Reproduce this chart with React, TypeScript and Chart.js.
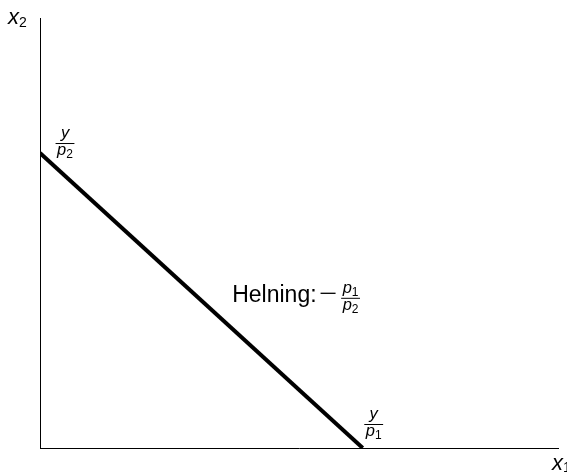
import React, { useEffect, useRef } from "react";
import { Chart, registerables } from "chart.js";

Chart.register(...registerables);

// Budget line: intercepts y/p1 on x1-axis and y/p2 on x2-axis (axes normalised 0..1)
const budgetX = [0, 0.623];
const budgetY = [0.686, 0];

// Axis labels: [base, subscript]
const xAxisLabel = ["x", "1"];
const yAxisLabel = ["x", "2"];

// Intercept fractions: [numerator, denominator base, denominator subscript]
const yInterceptLabel = ["y", "p", "2"];
const xInterceptLabel = ["y", "p", "1"];

// Slope annotation
const slopeText = "Helning:";
const slopeFraction = ["p", "1", "p", "2"];
const slopePos = [0.371, 0.34];

const FONT = '"Liberation Sans", Arial, Helvetica, sans-serif';

function drawSub(ctx: CanvasRenderingContext2D, x: number, y: number, base: string, sub: string, size: number, subSize: number, subDrop: number) {
  ctx.font = `italic ${size}px ${FONT}`;
  ctx.textAlign = "left";
  ctx.textBaseline = "alphabetic";
  ctx.fillText(base, x, y);
  const w = ctx.measureText(base).width;
  if (sub) {
    ctx.font = `${subSize}px ${FONT}`;
    ctx.fillText(sub, x + w, y + subDrop);
    return w + ctx.measureText(sub).width;
  }
  return w;
}

function measureSub(ctx: CanvasRenderingContext2D, base: string, sub: string, size: number, subSize: number) {
  ctx.font = `italic ${size}px ${FONT}`;
  let w = ctx.measureText(base).width;
  if (sub) {
    ctx.font = `${subSize}px ${FONT}`;
    w += ctx.measureText(sub).width;
  }
  return w;
}

function drawFraction(ctx: CanvasRenderingContext2D, cx: number, barY: number, numBase: string, numSub: string, denBase: string, denSub: string) {
  const size = 16.5;
  const subSize = 12;
  const nw = measureSub(ctx, numBase, numSub, size, subSize);
  const dw = measureSub(ctx, denBase, denSub, size, subSize);
  const bw = Math.max(nw, dw) + 3;
  ctx.save();
  ctx.strokeStyle = "#000";
  ctx.lineWidth = 1;
  ctx.beginPath();
  ctx.moveTo(cx - bw / 2, barY + 0.5);
  ctx.lineTo(cx + bw / 2, barY + 0.5);
  ctx.stroke();
  ctx.restore();
  drawSub(ctx, cx - nw / 2, barY - 5, numBase, numSub, size, subSize, 3);
  drawSub(ctx, cx - dw / 2, barY + 12, denBase, denSub, size, subSize, 3);
}

const labelPlugin = {
  id: "econLabels",
  afterDraw(chart: any) {
    const ctx: CanvasRenderingContext2D = chart.ctx;
    const xs = chart.scales.x;
    const ys = chart.scales.y;
    const area = chart.chartArea;
    ctx.save();
    ctx.fillStyle = "#000";

    // axis labels
    drawSub(ctx, area.left - 32, area.top + 6, yAxisLabel[0], yAxisLabel[1], 22, 14, 3);
    drawSub(ctx, area.right - 6, area.bottom + 22, xAxisLabel[0], xAxisLabel[1], 22, 14, 2);

    // intercept fractions
    const yInt = ys.getPixelForValue(budgetY[0]);
    drawFraction(ctx, area.left + 25, yInt - 10, yInterceptLabel[0], "", yInterceptLabel[1], yInterceptLabel[2]);
    const xInt = xs.getPixelForValue(budgetX[1]);
    drawFraction(ctx, xInt + 11, area.bottom - 24, xInterceptLabel[0], "", xInterceptLabel[1], xInterceptLabel[2]);

    // slope annotation
    const sx = xs.getPixelForValue(slopePos[0]);
    const sy = ys.getPixelForValue(slopePos[1]);
    ctx.font = `23px ${FONT}`;
    ctx.textAlign = "left";
    ctx.textBaseline = "alphabetic";
    ctx.fillText(slopeText, sx, sy);
    const tw = ctx.measureText(slopeText).width;
    // minus sign
    ctx.strokeStyle = "#000";
    ctx.lineWidth = 1.3;
    ctx.beginPath();
    ctx.moveTo(sx + tw + 4, sy - 8.5);
    ctx.lineTo(sx + tw + 19, sy - 8.5);
    ctx.stroke();
    drawFraction(ctx, sx + tw + 34, sy - 4, slopeFraction[0], slopeFraction[1], slopeFraction[2], slopeFraction[3]);

    ctx.restore();
  },
};

export default function App() {
  const ref = useRef<HTMLCanvasElement | null>(null);
  useEffect(() => {
    if (!ref.current) return;
    const chart = new Chart(ref.current, {
      type: "scatter",
      data: {
        datasets: [
          {
            data: budgetX.map((x, i) => ({ x, y: budgetY[i] })),
            showLine: true,
            borderColor: "#000",
            backgroundColor: "#000",
            borderWidth: 4,
            pointRadius: 0,
            pointHoverRadius: 0,
          },
        ],
      },
      options: {
        animation: false,
        responsive: false,
        devicePixelRatio: 1,
        layout: { padding: { left: 40, top: 18, right: 9, bottom: 25 } },
        plugins: { legend: { display: false }, tooltip: { enabled: false } },
        events: [],
        scales: {
          x: {
            type: "linear",
            min: 0,
            max: 1,
            ticks: { display: false },
            grid: { display: false, drawTicks: false },
            border: { display: true, color: "#000", width: 1 },
          },
          y: {
            type: "linear",
            min: 0,
            max: 1,
            ticks: { display: false },
            grid: { display: false, drawTicks: false },
            border: { display: true, color: "#000", width: 1 },
          },
        },
      },
      plugins: [labelPlugin],
    });
    return () => chart.destroy();
  }, []);
  return (
    <canvas
      ref={ref}
      width={567}
      height={473}
      style={{ position: "absolute", left: 0, top: 0, display: "block", width: 567, height: 473, background: "#fff" }}
    />
  );
}
